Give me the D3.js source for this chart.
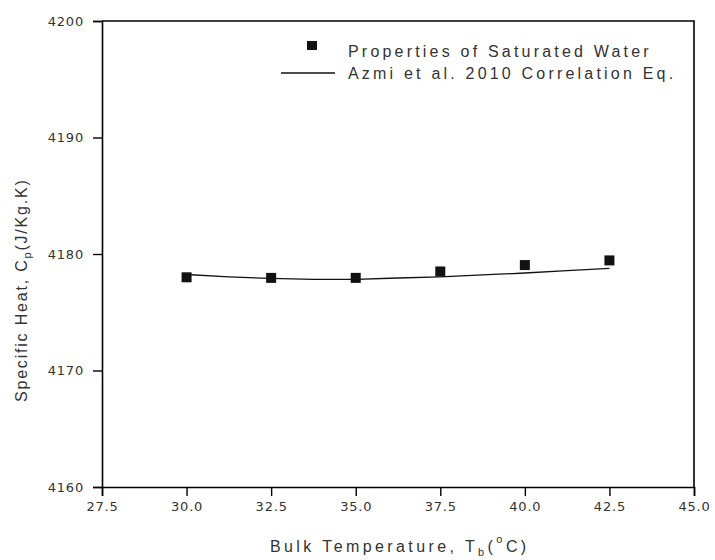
<!DOCTYPE html>
<html>
<head>
<meta charset="utf-8">
<script src="https://cdn.jsdelivr.net/npm/d3@7"></script>
<style>
  html, body { margin: 0; padding: 0; background: #fff; }
  svg { display: block; font-family: "Liberation Sans", Arial, sans-serif; }
</style>
</head>
<body>
<svg id="chart" width="715" height="560"></svg>
<script>
// Data
const tempPoints = [30.0, 32.5, 35.0, 37.5, 40.0, 42.5];
const cpSaturated = [4178.0, 4177.95, 4177.95, 4178.5, 4179.05, 4179.45];

const tempLine = [30.0, 31.25, 32.5, 33.75, 35.0, 36.25, 37.5, 38.75, 40.0, 41.25, 42.5];
const cpCorrelation = [4178.24, 4178.03, 4177.9, 4177.83, 4177.83, 4177.94, 4178.03, 4178.2, 4178.37, 4178.57, 4178.76];

const xTicks = [27.5, 30.0, 32.5, 35.0, 37.5, 40.0, 42.5, 45.0];
const yTicks = [4160, 4170, 4180, 4190, 4200];

const legendLabels = ["Properties of Saturated Water", "Azmi et al. 2010 Correlation Eq."];

const svg = d3.select("#chart");
const mLeft = 102, mRight = 694, mTop = 21, mBottom = 487;

const x = d3.scaleLinear().domain([27.5, 45.0]).range([mLeft, mRight]);
const y = d3.scaleLinear().domain([4160, 4200]).range([mBottom, mTop]);

// Frame (top and right)
svg.append("path")
  .attr("d", `M${mLeft},${mTop}H${mRight}V${mBottom}`)
  .attr("fill", "none").attr("stroke", "#000").attr("stroke-width", 1.6);

// Axes
const xAxis = svg.append("g").attr("transform", `translate(0,${mBottom})`)
  .call(d3.axisBottom(x).tickValues(xTicks).tickFormat(d3.format(".1f")).tickSizeOuter(0).tickSize(9).tickPadding(6));
const yAxis = svg.append("g").attr("transform", `translate(${mLeft},0)`)
  .call(d3.axisLeft(y).tickValues(yTicks).tickFormat(d3.format("d")).tickSizeOuter(0).tickSize(9).tickPadding(9));

[xAxis, yAxis].forEach(g => {
  g.select(".domain").attr("stroke", "#000").attr("stroke-width", 1.6);
  g.selectAll(".tick line").attr("stroke", "#000").attr("stroke-width", 1.4);
  g.selectAll(".tick text").attr("fill", "#333").style("font-size", "13px")
    .style("font-family", "'DejaVu Sans', sans-serif").style("letter-spacing", "0.8px");
});

// Correlation line
svg.append("path")
  .datum(tempLine.map((t, i) => [t, cpCorrelation[i]]))
  .attr("fill", "none").attr("stroke", "#111").attr("stroke-width", 1.3)
  .attr("d", d3.line().x(d => x(d[0])).y(d => y(d[1])));

// Points
const ms = 10;
svg.append("g").selectAll("rect")
  .data(tempPoints.map((t, i) => [t, cpSaturated[i]]))
  .join("rect")
  .attr("x", d => x(d[0]) - ms / 2).attr("y", d => y(d[1]) - ms / 2)
  .attr("width", ms).attr("height", ms).attr("fill", "#111");

// Legend
const lg = svg.append("g");
lg.append("rect").attr("x", 307).attr("y", 41).attr("width", 10).attr("height", 9).attr("fill", "#111");
lg.append("line").attr("x1", 281).attr("x2", 335).attr("y1", 73).attr("y2", 73).attr("stroke", "#111").attr("stroke-width", 1.3);
lg.selectAll("text").data(legendLabels).join("text")
  .attr("x", 348).attr("y", (d, i) => 57 + i * 22)
  .style("font-size", "16px").style("letter-spacing", "3.2px").attr("fill", "#333")
  .text(d => d);

// X axis title
const xt = svg.append("text").attr("x", 270).attr("y", 552)
  .style("font-size", "16px").style("letter-spacing", "3.4px").attr("fill", "#333");
xt.append("tspan").text("Bulk Temperature, T");
xt.append("tspan").attr("dy", 4).style("font-size", "11px").text("b");
xt.append("tspan").attr("dy", -4).text("(");
xt.append("tspan").attr("dy", -9).style("font-size", "11px").text("o");
xt.append("tspan").attr("dy", 9).text("C)");

// Y axis title
const yt = svg.append("text")
  .attr("transform", "translate(27,402) rotate(-90)")
  .style("font-size", "16px").style("letter-spacing", "1.8px").attr("fill", "#333");
yt.append("tspan").text("Specific Heat, C");
yt.append("tspan").attr("dy", 4).style("font-size", "11px").text("p");
yt.append("tspan").attr("dy", -4).text("(J/Kg.K)");
</script>
</body>
</html>
